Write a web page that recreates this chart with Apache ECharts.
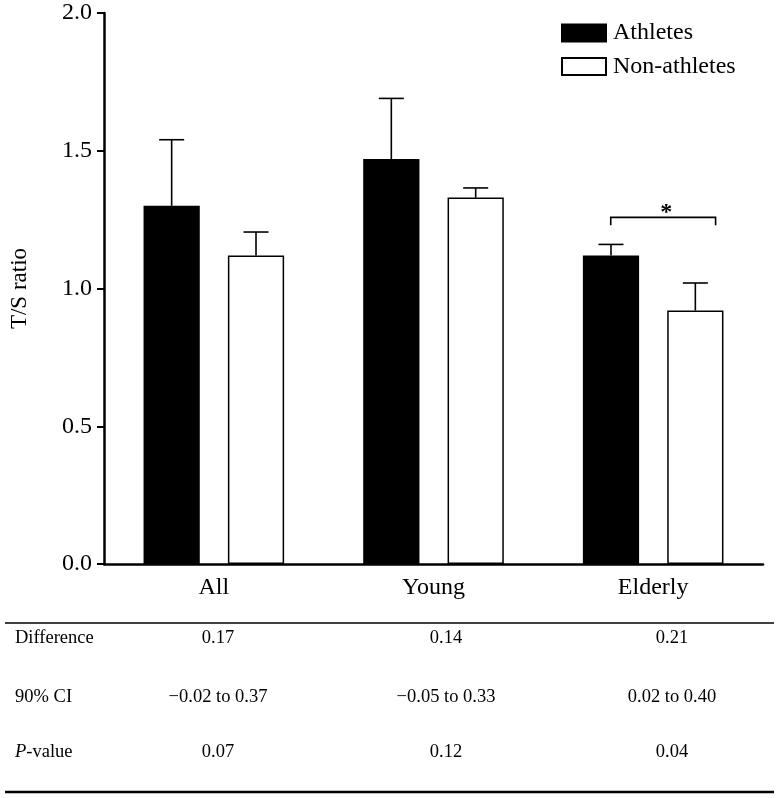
<!DOCTYPE html>
<html>
<head>
<meta charset="utf-8">
<script src="https://cdn.jsdelivr.net/npm/echarts@6/dist/echarts.min.js"></script>
<style>
html,body{margin:0;padding:0;background:#fff;}
#chart{width:778px;height:798px;}
</style>
</head>
<body>
<div id="chart"></div>
<script>
// ---- data ----
var categories = ['All', 'Young', 'Elderly'];
var seriesNames = ['Athletes', 'Non-athletes'];
var athletesMean = [1.30, 1.47, 1.12];
var athletesErrTop = [1.54, 1.69, 1.16];
var nonAthletesMean = [1.12, 1.33, 0.92];
var nonAthletesErrTop = [1.205, 1.365, 1.02];
var yTicks = [0, 0.5, 1.0, 1.5, 2.0];
var tableRowLabels = ['Difference', '90% CI', 'P-value'];
var tableDifference = ['0.17', '0.14', '0.21'];
var tableCI = ['\u22120.02 to 0.37', '\u22120.05 to 0.33', '0.02 to 0.40'];
var tablePValue = ['0.07', '0.12', '0.04'];
var sigCategory = 'Elderly';
var sigBracketValue = 1.258;
var sigBracketDrop = 1.23;

var FONT = '"Liberation Serif", "Times New Roman", serif';
var chart = echarts.init(document.getElementById('chart'), null, {renderer: 'canvas'});

var BAR_CAT_GAP = 0.36, BAR_GAP = 0.5;
function barW(api) {
  var band = api.size([1, 0])[0];
  return band * (1 - BAR_CAT_GAP) / (2 + BAR_GAP);
}
function errRender(sign) {
  return function (params, api) {
    var ci = api.value(0);
    var bw = barW(api);
    var off = sign * (bw + bw * BAR_GAP) / 2;
    var pMean = api.coord([ci, api.value(1)]);
    var pTop = api.coord([ci, api.value(2)]);
    var x = pMean[0] + off;
    var cap = 12.5;
    return {
      type: 'group',
      children: [
        {type: 'line', shape: {x1: x, y1: pMean[1], x2: x, y2: pTop[1]}, style: {stroke: '#000', lineWidth: 1.6}},
        {type: 'line', shape: {x1: x - cap, y1: pTop[1], x2: x + cap, y2: pTop[1]}, style: {stroke: '#000', lineWidth: 1.6}}
      ]
    };
  };
}

var option = {
  animation: false,
  backgroundColor: '#fff',
  textStyle: {fontFamily: FONT},
  grid: {left: 100, right: 15, top: 13, bottom: 234, containLabel: false},
  legend: {
    orient: 'vertical', left: 561, top: 21, padding: 0,
    itemWidth: 44, itemHeight: 17, itemGap: 9.5,
    data: seriesNames.map(function (n) { return {name: n, icon: 'rect'}; }),
    textStyle: {fontFamily: FONT, fontSize: 24, color: '#000', padding: [0, 0, 0, 2]}
  },
  xAxis: {
    type: 'category', data: categories, boundaryGap: true,
    axisLine: {lineStyle: {color: '#000', width: 2.5}},
    axisTick: {alignWithLabel: true, length: 7, lineStyle: {color: '#000', width: 2}},
    axisLabel: {fontFamily: FONT, fontSize: 24, color: '#000', margin: 12}
  },
  yAxis: {
    type: 'value', min: 0, max: 2, interval: 0.5,
    name: 'T/S ratio', nameLocation: 'middle', nameGap: 73, nameRotate: 90,
    nameTextStyle: {fontFamily: FONT, fontSize: 23, color: '#000'},
    axisLine: {show: true, lineStyle: {color: '#000', width: 2.5}},
    axisTick: {show: true, length: 7, lineStyle: {color: '#000', width: 2}},
    splitLine: {show: false},
    axisLabel: {fontFamily: FONT, fontSize: 24, color: '#000', margin: 12,
      formatter: function (v) { return v.toFixed(1); }}
  },
  series: [
    {name: seriesNames[0], type: 'bar', data: athletesMean, barCategoryGap: '36%', barGap: '50%',
     itemStyle: {color: '#000', borderColor: '#000', borderWidth: 1.5}, z: 2},
    {name: seriesNames[1], type: 'bar', data: nonAthletesMean, barCategoryGap: '36%', barGap: '50%',
     itemStyle: {color: '#fff', borderColor: '#000', borderWidth: 1.5}, z: 2},
    {type: 'custom', renderItem: errRender(-1), z: 3, silent: true,
     data: categories.map(function (c, i) { return [i, athletesMean[i], athletesErrTop[i]]; })},
    {type: 'custom', renderItem: errRender(1), z: 3, silent: true,
     data: categories.map(function (c, i) { return [i, nonAthletesMean[i], nonAthletesErrTop[i]]; })}
  ]
};
chart.setOption(option);

// annotations: significance bracket + table
var ci = categories.indexOf(sigCategory);
var center = chart.convertToPixel({xAxisIndex: 0}, ci);
var band = 663 / categories.length;
var bw = band * (1 - BAR_CAT_GAP) / (2 + BAR_GAP);
var off = (bw + bw * BAR_GAP) / 2;
var xL = center - off, xR = center + off + 20;
var yB = chart.convertToPixel({yAxisIndex: 0}, sigBracketValue);
var yD = chart.convertToPixel({yAxisIndex: 0}, sigBracketDrop);

var TF = '18.5px ' + FONT;
var g = [
  {type: 'polyline', shape: {points: [[xL, yD], [xL, yB], [xR, yB], [xR, yD]]}, style: {stroke: '#000', lineWidth: 1.6, fill: null}},
  {type: 'text', style: {text: '*', x: (xL + xR) / 2 + 3, y: yB - 5, font: 'bold 24px ' + FONT, fill: '#000', align: 'center', verticalAlign: 'middle'}},
  {type: 'line', shape: {x1: 5, y1: 623, x2: 774, y2: 623}, style: {stroke: '#000', lineWidth: 1.5}},
  {type: 'line', shape: {x1: 5, y1: 792, x2: 774, y2: 792}, style: {stroke: '#000', lineWidth: 2.5}}
];
var rowY = [638, 697, 752];
var colX = [218, 446, 672];
var rows = [tableDifference, tableCI, tablePValue];
rows.forEach(function (row, r) {
  if (r === 2) {
    g.push({type: 'text', style: {rich: {i: {font: 'italic ' + TF, fill: '#000'}, n: {font: TF, fill: '#000'}},
      text: '{i|P}{n|-value}', x: 15, y: rowY[r], verticalAlign: 'middle', align: 'left'}});
  } else {
    g.push({type: 'text', style: {text: tableRowLabels[r], x: 15, y: rowY[r], font: TF, fill: '#000', verticalAlign: 'middle', align: 'left'}});
  }
  row.forEach(function (t, c) {
    g.push({type: 'text', style: {text: t, x: colX[c], y: rowY[r], font: TF, fill: '#000', verticalAlign: 'middle', align: 'center'}});
  });
});
chart.setOption({graphic: g});
</script>
</body>
</html>
